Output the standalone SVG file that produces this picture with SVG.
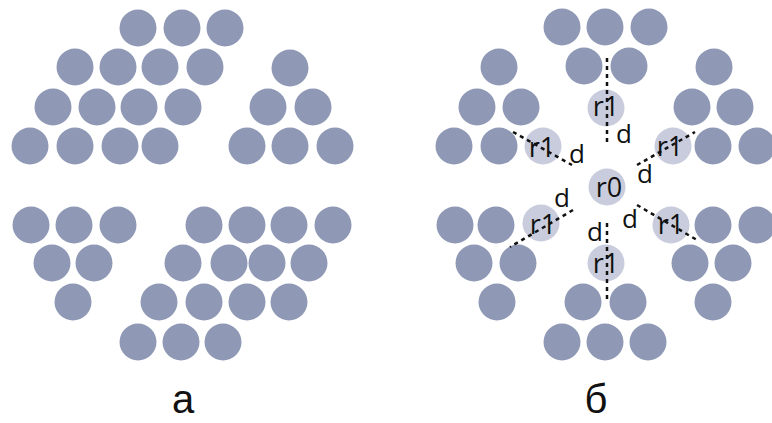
<svg xmlns="http://www.w3.org/2000/svg" width="772" height="423" viewBox="0 0 772 423">
<style>
.c{fill:#8f99b6}
.l{fill:#c9ccdc}
.t{font-family:"Open Sans","Noto Sans",sans-serif;fill:#111;text-anchor:middle}
.r{font-size:27px}
.d{font-size:26px}
.cap{font-family:"Liberation Sans",Arial,sans-serif;font-size:40px;fill:#111;text-anchor:middle}
.dash{stroke:#111;stroke-width:2.5;stroke-dasharray:4 4;fill:none}
</style>
<defs><filter id="soft" x="-5%" y="-5%" width="110%" height="110%"><feGaussianBlur stdDeviation="0.6"/></filter></defs>
<rect width="772" height="423" fill="#fff"/>
<g id="panel-a" filter="url(#soft)">
<g id="a-top-left">
<circle class="c" cx="138" cy="28" r="18.5"/><circle class="c" cx="182" cy="28" r="18.5"/><circle class="c" cx="225" cy="28" r="18.5"/>
<circle class="c" cx="75" cy="67" r="18.5"/><circle class="c" cx="118" cy="67" r="18.5"/><circle class="c" cx="160" cy="67" r="18.5"/><circle class="c" cx="205" cy="67" r="18.5"/>
<circle class="c" cx="53" cy="107" r="18.5"/><circle class="c" cx="97" cy="107" r="18.5"/><circle class="c" cx="139" cy="107" r="18.5"/><circle class="c" cx="183" cy="107" r="18.5"/>
<circle class="c" cx="30" cy="146" r="18.5"/><circle class="c" cx="75" cy="146" r="18.5"/><circle class="c" cx="120" cy="146" r="18.5"/><circle class="c" cx="160" cy="146" r="18.5"/>
</g>
<g id="a-top-right">
<circle class="c" cx="290" cy="68" r="18.5"/>
<circle class="c" cx="268" cy="107" r="18.5"/><circle class="c" cx="313" cy="107" r="18.5"/>
<circle class="c" cx="247" cy="146" r="18.5"/><circle class="c" cx="290" cy="146" r="18.5"/><circle class="c" cx="335" cy="146" r="18.5"/>
</g>
<g id="a-bottom-left">
<circle class="c" cx="31" cy="225" r="18.5"/><circle class="c" cx="74" cy="225" r="18.5"/><circle class="c" cx="118" cy="225" r="18.5"/>
<circle class="c" cx="52" cy="263" r="18.5"/><circle class="c" cx="94" cy="263" r="18.5"/>
<circle class="c" cx="73" cy="302" r="18.5"/>
</g>
<g id="a-bottom-right">
<circle class="c" cx="204" cy="225" r="18.5"/><circle class="c" cx="247" cy="225" r="18.5"/><circle class="c" cx="289" cy="225" r="18.5"/><circle class="c" cx="333" cy="225" r="18.5"/>
<circle class="c" cx="183" cy="263" r="18.5"/><circle class="c" cx="229" cy="263" r="18.5"/><circle class="c" cx="267" cy="263" r="18.5"/><circle class="c" cx="309" cy="263" r="18.5"/>
<circle class="c" cx="159" cy="302" r="18.5"/><circle class="c" cx="204" cy="302" r="18.5"/><circle class="c" cx="247" cy="302" r="18.5"/><circle class="c" cx="289" cy="302" r="18.5"/>
<circle class="c" cx="138" cy="342" r="18.5"/><circle class="c" cx="181" cy="342" r="18.5"/><circle class="c" cx="223" cy="342" r="18.5"/>
</g>
</g>
<g id="panel-b">
<g filter="url(#soft)">
<g id="b-top">
<circle class="c" cx="562" cy="27" r="18.5"/><circle class="c" cx="605" cy="27" r="18.5"/><circle class="c" cx="649" cy="27" r="18.5"/>
<circle class="c" cx="584" cy="66" r="18.5"/><circle class="c" cx="629" cy="66" r="18.5"/>
</g>
<g id="b-upper-left">
<circle class="c" cx="499" cy="67" r="18.5"/>
<circle class="c" cx="477" cy="107" r="18.5"/><circle class="c" cx="521" cy="107" r="18.5"/>
<circle class="c" cx="454" cy="146" r="18.5"/><circle class="c" cx="499" cy="146" r="18.5"/>
</g>
<g id="b-upper-right">
<circle class="c" cx="714" cy="67" r="18.5"/>
<circle class="c" cx="692" cy="107" r="18.5"/><circle class="c" cx="735" cy="107" r="18.5"/>
<circle class="c" cx="713" cy="146" r="18.5"/><circle class="c" cx="757" cy="146" r="18.5"/>
</g>
<g id="b-lower-left">
<circle class="c" cx="455" cy="225" r="18.5"/><circle class="c" cx="496" cy="225" r="18.5"/>
<circle class="c" cx="474" cy="263" r="18.5"/><circle class="c" cx="518" cy="263" r="18.5"/>
<circle class="c" cx="497" cy="302" r="18.5"/>
</g>
<g id="b-lower-right">
<circle class="c" cx="713" cy="225" r="18.5"/><circle class="c" cx="757" cy="225" r="18.5"/>
<circle class="c" cx="690" cy="263" r="18.5"/><circle class="c" cx="733" cy="263" r="18.5"/>
<circle class="c" cx="713" cy="302" r="18.5"/>
</g>
<g id="b-bottom">
<circle class="c" cx="583" cy="302" r="18.5"/><circle class="c" cx="628" cy="302" r="18.5"/>
<circle class="c" cx="562" cy="342" r="18.5"/><circle class="c" cx="605" cy="342" r="18.5"/><circle class="c" cx="648" cy="342" r="18.5"/>
</g>
<g id="light">
<circle class="l" cx="607" cy="187" r="18.5"/>
<circle class="l" cx="606" cy="108" r="18.5"/>
<circle class="l" cx="543" cy="146" r="18.5"/>
<circle class="l" cx="673" cy="146" r="18.5"/>
<circle class="l" cx="541" cy="223" r="18.5"/>
<circle class="l" cx="671" cy="225" r="18.5"/>
<circle class="l" cx="606" cy="263" r="18.5"/>
</g>
</g>
<g id="labels">
<text class="t r" x="609" y="197">r0</text>
<text class="t r" x="606" y="116">r1</text>
<text class="t r" x="542" y="157">r1</text>
<text class="t r" x="670" y="156">r1</text>
<text class="t r" x="543" y="234">r1</text>
<text class="t r" x="671" y="234">r1</text>
<text class="t r" x="606" y="273">r1</text>
<text class="t d" x="624" y="143">d</text>
<text class="t d" x="577" y="163">d</text>
<text class="t d" x="645" y="183">d</text>
<text class="t d" x="562" y="207">d</text>
<text class="t d" x="630" y="228">d</text>
<text class="t d" x="595" y="241">d</text>
</g>
<g id="connectors">
<line class="dash" x1="607" y1="58" x2="607" y2="145"/>
<line class="dash" x1="513" y1="132" x2="572" y2="165"/>
<line class="dash" x1="637" y1="165" x2="695" y2="132"/>
<line class="dash" x1="573" y1="210" x2="510" y2="247"/>
<line class="dash" x1="637" y1="205" x2="697" y2="240"/>
<line class="dash" x1="607" y1="223" x2="607" y2="302"/>
</g>
</g>
<text class="cap" x="183" y="413">а</text>
<text class="cap" x="596" y="413">б</text>
</svg>
